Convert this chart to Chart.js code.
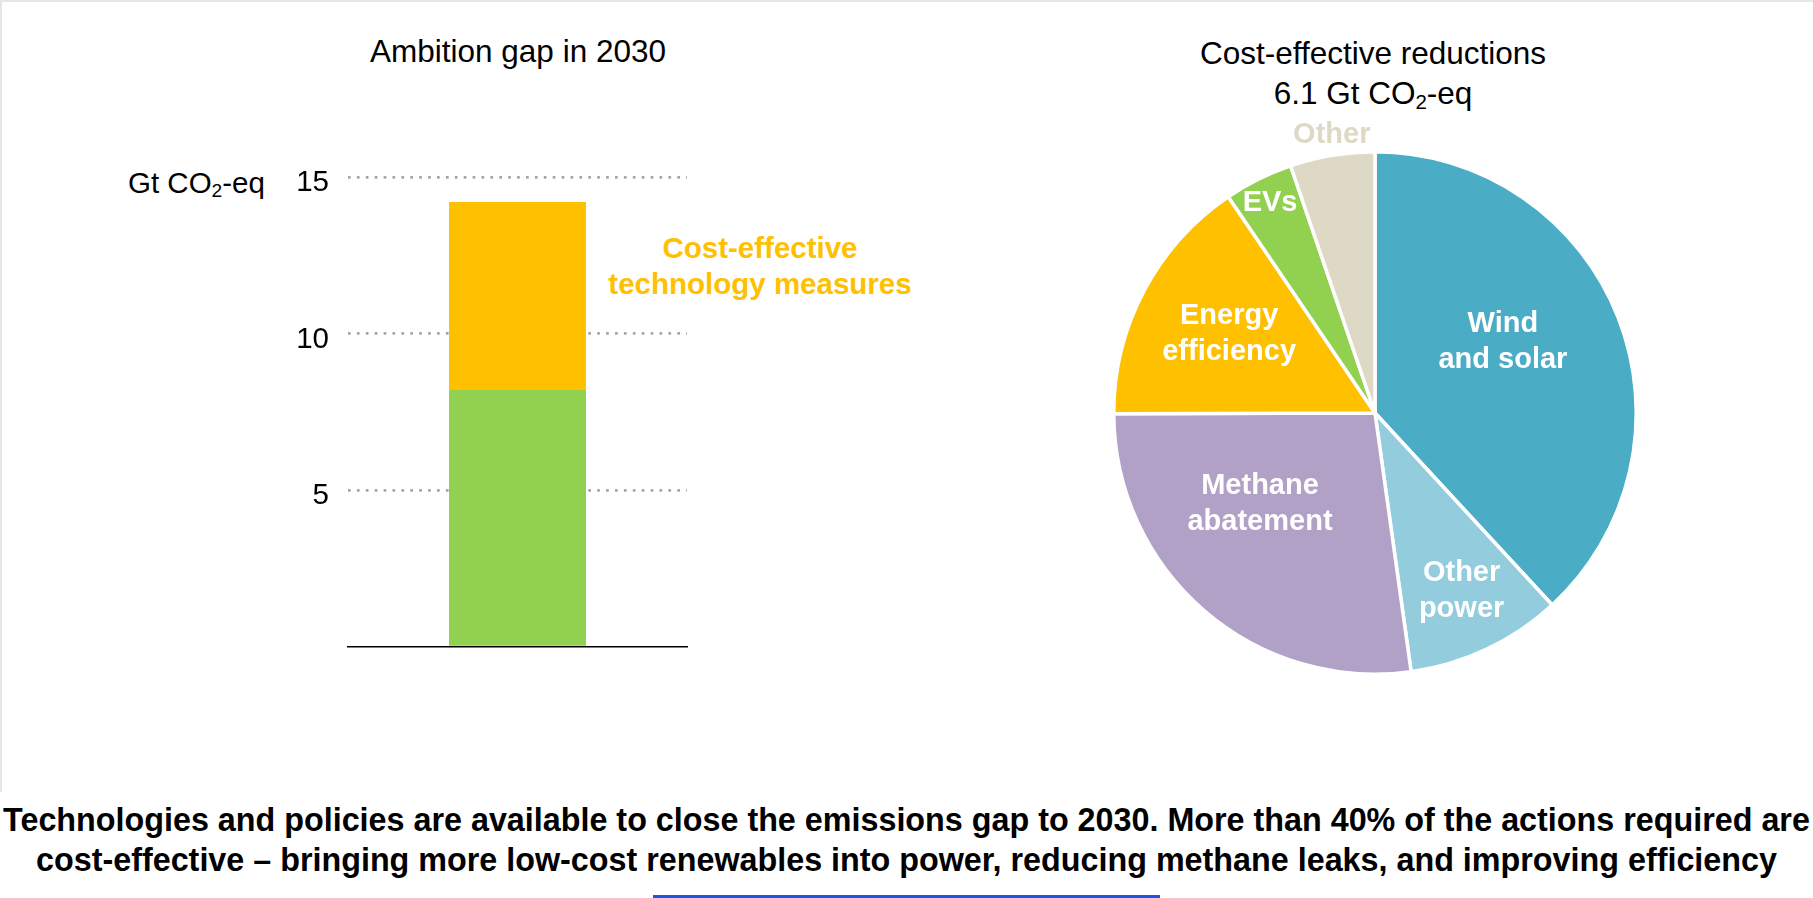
<!DOCTYPE html>
<html>
<head>
<meta charset="utf-8">
<title>Ambition gap in 2030</title>
<script src="https://cdn.jsdelivr.net/npm/chart.js@4/dist/chart.umd.min.js"></script>
<style>
  html, body { margin: 0; padding: 0; background: #fff; }
  body { width: 1813px; height: 898px; position: relative; overflow: hidden;
         font-family: "Liberation Sans", Arial, sans-serif; color: #000; }
  .abs { position: absolute; }
  .frame { left: 0; top: 0; width: 1830px; height: 790px; border-top: 2px solid #e6e6e6; border-left: 2px solid #e6e6e6; }
  .title { font-size: 31.5px; line-height: 40px; text-align: center; white-space: nowrap; }
  .note { font-size: 29.5px; font-weight: bold; line-height: 36px; text-align: center; color: #FFC000; white-space: nowrap; }
  .unit { font-size: 29.5px; line-height: 36px; white-space: nowrap; }
  .foot { left: 0; width: 1813px; font-size: 32.3px; font-weight: bold; line-height: 40px; text-align: center; white-space: nowrap; }
  sub { font-size: 0.65em; vertical-align: -0.22em; line-height: 0; }
  .scrollbar { left: 653px; top: 895px; width: 507px; height: 3px; background: #1f53e0; }
</style>
</head>
<body>
<div class="abs frame"></div>

<div class="abs title" style="left:318px; top:31px; width:400px;">Ambition gap in 2030</div>
<div class="abs title" style="left:1123px; top:33px; width:500px;">Cost-effective reductions<br>6.1 Gt CO<sub>2</sub>-eq</div>
<div class="abs unit" style="left:128px; top:165px;">Gt CO<sub>2</sub>-eq</div>
<div class="abs note" style="left:560px; top:230px; width:400px;">Cost-effective<br>technology measures</div>

<canvas id="barChart" class="abs" width="720" height="700" style="left:0; top:0;"></canvas>
<canvas id="pieChart" class="abs" width="600" height="600" style="left:1075px; top:113px;"></canvas>

<div class="abs foot" style="top:800px;">Technologies and policies are available to close the emissions gap to 2030. More than 40% of the actions required are</div>
<div class="abs foot" style="top:840px;">cost-effective – bringing more low-cost renewables into power, reducing methane leaks, and improving efficiency</div>
<div class="abs scrollbar"></div>

<script>
// barra: brecha de ambición 2030 (Gt CO2-eq)
const barCategories = ["2030"];
const otherMeasures = [8.2];
const costEffective = [6.0];
const yTickValues = [0, 5, 10, 15];

// torta: reducciones costo-efectivas (Gt CO2-eq)
const pieCategories = ["Wind and solar", "Other power", "Methane abatement", "Energy efficiency", "EVs", "Other"];
const pieLabelLines = [["Wind", "and solar"], ["Other", "power"], ["Methane", "abatement"], ["Energy", "efficiency"], ["EVs"], ["Other"]];
const pieValues = [2.33, 0.59, 1.66, 0.95, 0.26, 0.32];

const pieColors = ["#4BACC6", "#93CDDD", "#B2A1C7", "#FFC000", "#92D050", "#DDD9C4"];
// ubicación de las etiquetas: giro respecto al ángulo medio (grados) y fracción del radio
const labelPlacement = [
  { shift: -7.7, dist: 0.56, color: "#fff" },
  { shift: -0.6, dist: 0.758, color: "#fff" },
  { shift: 10.6, dist: 0.562, color: "#fff" },
  { shift: 0.6, dist: 0.635, color: "#fff" },
  { shift: 0, dist: 0.9, color: "#fff" },
  { shift: 0.6, dist: 1.078, color: "#DDD9C4" }
];

const FONT = '"Liberation Sans", Arial, sans-serif';

new Chart(document.getElementById("barChart"), {
  type: "bar",
  data: {
    labels: barCategories,
    datasets: [
      { label: "Other measures", data: otherMeasures, backgroundColor: "#92D050" },
      { label: "Cost-effective technology measures", data: costEffective, backgroundColor: "#FFC000" }
    ]
  },
  options: {
    responsive: false,
    animation: false,
    layout: { padding: { left: 0, right: 33, top: 177, bottom: 53 } },
    plugins: { legend: { display: false }, tooltip: { enabled: false } },
    datasets: { bar: { categoryPercentage: 1, barPercentage: 0.404 } },
    scales: {
      x: {
        stacked: true,
        ticks: { display: false },
        grid: { display: false, drawTicks: false },
        border: { display: true, color: "#000", width: 1.5 },
        afterFit: (s) => { s.height = 0; }
      },
      y: {
        stacked: true,
        min: 0,
        max: 15,
        afterBuildTicks: (s) => { s.ticks = yTickValues.map((v) => ({ value: v })); },
        afterFit: (s) => { s.width = 348; },
        ticks: {
          padding: 19,
          labelOffset: 6,
          color: "#000",
          font: { family: FONT, size: 29.5 },
          callback: (v) => (v === 0 ? "" : v)
        },
        grid: {
          drawTicks: false,
          lineWidth: 2.7,
          color: (c) => (c.tick && c.tick.value === 0 ? "rgba(0,0,0,0)" : "#a6a6a6")
        },
        border: { display: false, dash: [2.7, 6.2] }
      }
    }
  }
});

// etiquetas dentro de la torta
const pieLabelPlugin = {
  id: "pieLabels",
  afterDatasetsDraw(chart) {
    const ctx = chart.ctx;
    const meta = chart.getDatasetMeta(0);
    ctx.save();
    ctx.font = "bold 29px " + FONT;
    ctx.textAlign = "center";
    ctx.textBaseline = "middle";
    meta.data.forEach((arc, i) => {
      const p = labelPlacement[i];
      const a = (arc.startAngle + arc.endAngle) / 2 + p.shift * Math.PI / 180;
      const r = arc.outerRadius * p.dist;
      const cx = arc.x + Math.cos(a) * r;
      const cy = arc.y + Math.sin(a) * r;
      const lines = pieLabelLines[i];
      ctx.fillStyle = p.color;
      lines.forEach((t, k) => {
        ctx.fillText(t, cx, cy + (k - (lines.length - 1) / 2) * 36);
      });
    });
    ctx.restore();
  }
};

new Chart(document.getElementById("pieChart"), {
  type: "pie",
  data: {
    labels: pieCategories,
    datasets: [{
      data: pieValues,
      backgroundColor: pieColors,
      borderColor: "#fff",
      borderWidth: 3.5
    }]
  },
  options: {
    responsive: false,
    animation: false,
    layout: { padding: 37 },
    plugins: { legend: { display: false }, tooltip: { enabled: false } }
  },
  plugins: [pieLabelPlugin]
});
</script>
</body>
</html>
